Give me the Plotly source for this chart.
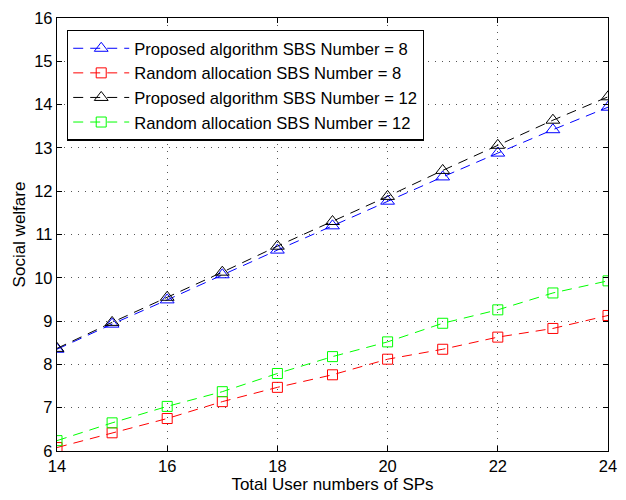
import plotly.graph_objects as go

x_users = [14, 15, 16, 17, 18, 19, 20, 21, 22, 23, 24]
proposed_8 = [8.35, 8.93, 9.49, 10.07, 10.64, 11.20, 11.77, 12.33, 12.88, 13.42, 13.94]
random_8 = [6.08, 6.42, 6.75, 7.14, 7.47, 7.76, 8.12, 8.35, 8.63, 8.83, 9.13]
proposed_12 = [8.37, 8.97, 9.55, 10.13, 10.73, 11.30, 11.88, 12.48, 13.06, 13.64, 14.18]
random_12 = [6.24, 6.65, 7.03, 7.37, 7.79, 8.18, 8.52, 8.95, 9.26, 9.65, 9.93]

series = [
    ("Proposed algorithm SBS Number = 8", proposed_8, "#0000ff", "triangle-up-open", 12),
    ("Random allocation SBS Number = 8", random_8, "#ff0000", "square-open", 10),
    ("Proposed algorithm SBS Number = 12", proposed_12, "#000000", "triangle-up-open", 12),
    ("Random allocation SBS Number = 12", random_12, "#00ff00", "square-open", 10),
]

fig = go.Figure()
for name, ys, color, sym, size in series:
    fig.add_trace(go.Scatter(
        x=x_users, y=ys, name=name, mode="lines+markers",
        line=dict(color=color, width=1, dash="10px,7px"),
        marker=dict(symbol=sym, size=size, color=color, line=dict(width=1, color=color)),
    ))

axis_common = dict(
    showline=True, linecolor="black", linewidth=1.3, mirror="ticks",
    ticks="inside", ticklen=5, tickcolor="black",
    showgrid=True, gridcolor="#555555", griddash="1px,6px", gridwidth=1,
    zeroline=False, tickfont=dict(size=16.5, color="black"),
)

fig.update_layout(
    width=626, height=500,
    margin=dict(l=57, r=9, t=13, b=46),
    paper_bgcolor="white", plot_bgcolor="white",
    font=dict(family="Liberation Sans, Arial, sans-serif", color="black"),
    xaxis=dict(range=[14, 24], tickvals=[14, 16, 18, 20, 22, 24],
               title=dict(text="Total User numbers of SPs", font=dict(size=17), standoff=4),
               **axis_common),
    yaxis=dict(range=[6, 16], tickvals=list(range(6, 17)),
               title=dict(text="Social welfare", font=dict(size=17), standoff=4),
               **axis_common),
    legend=dict(x=0.018, y=0.973, xanchor="left", yanchor="top",
                bordercolor="black", borderwidth=1.3, bgcolor="white",
                font=dict(size=16.6), tracegroupgap=0, itemwidth=56),
    showlegend=True,
)

fig.write_html("out.html")
